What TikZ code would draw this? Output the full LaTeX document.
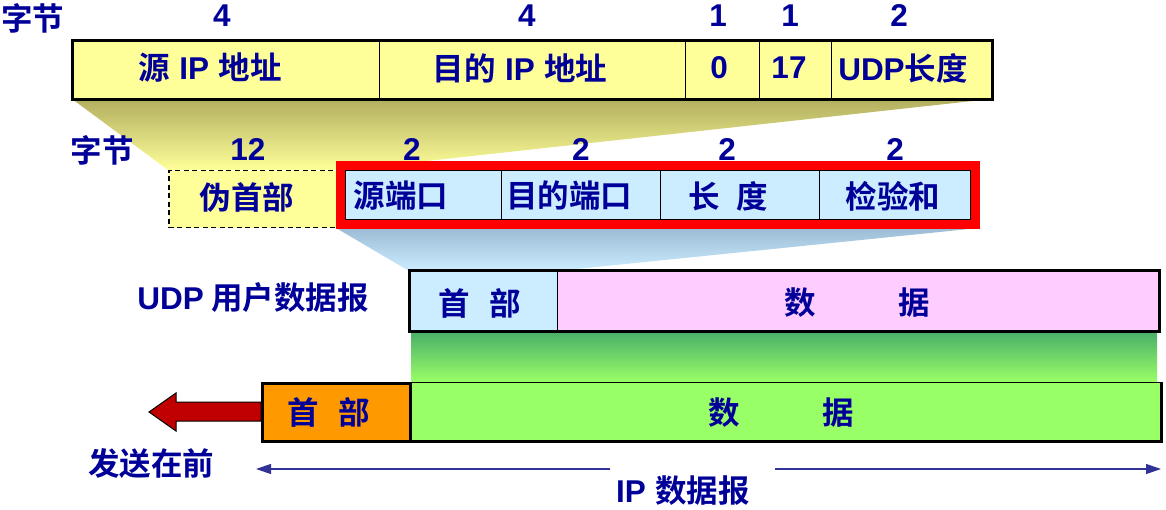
\documentclass[tikz,border=0pt]{standalone}
\usepackage{fontspec}
\usetikzlibrary{arrows.meta,calc}
\newfontfamily\cjk{Noto Sans CJK SC}[UprightFont={* Bold}]
\newfontfamily\lat{Liberation Sans}[UprightFont={* Bold}]
\definecolor{navy}{RGB}{0,0,153}
\definecolor{yel}{RGB}{255,255,153}
\definecolor{lblue}{RGB}{204,236,255}
\definecolor{pink}{RGB}{255,204,255}
\definecolor{orng}{RGB}{255,153,0}
\definecolor{grn}{RGB}{153,255,102}
\definecolor{arrred}{RGB}{192,0,0}
\definecolor{ytop}{RGB}{178,174,96}
\definecolor{btop}{RGB}{155,188,212}
\definecolor{gtop}{RGB}{75,175,105}
\definecolor{ipline}{RGB}{50,50,150}
\begin{document}
\begin{tikzpicture}[x=1pt,y=-1pt,
  txt/.style={inner sep=0pt, text=navy, font=\fontsize{31.5}{36}\selectfont},
  cell/.style={draw=black, line width=1pt, inner sep=0pt, anchor=north west},
  outer/.style={draw=black, line width=3pt},
  iparrow/.style={draw=ipline, line width=1.2pt, -{Triangle[length=15pt,width=10pt]}}]
\useasboundingbox (0,0) rectangle (1166,510);

% shadings
\shade[top color=ytop, bottom color=yel] (72,99) -- (991,99) -- (345,170) -- (168,170) -- cycle;
\shade[top color=btop, bottom color=lblue] (336,228) -- (979,228) -- (557,271) -- (409,271) -- cycle;
\shade[top color=gtop, bottom color=grn] (411,332) rectangle (1157,382);

% top row: pseudo header fields
\node[txt] (by1) at (33,18) {\cjk 字节};
\node[txt] (n1) at (222,16) {\lat 4};
\node[txt] (n2) at (527,16) {\lat 4};
\node[txt] (n3) at (718,16) {\lat 1};
\node[txt] (n4) at (790,16) {\lat 1};
\node[txt] (n5) at (899,16) {\lat 2};

\node[cell, fill=yel, minimum width=307pt, minimum height=58pt] (src) at (72,41) {};
\node[cell, fill=yel, minimum width=306pt, minimum height=58pt] (dst) at (379,41) {};
\node[cell, fill=yel, minimum width=74pt, minimum height=58pt] (zero) at (685,41) {};
\node[cell, fill=yel, minimum width=72pt, minimum height=58pt] (proto) at (759,41) {};
\node[cell, fill=yel, minimum width=160pt, minimum height=58pt] (ulen) at (831,41) {};
\draw[outer] (src.north west) rectangle (ulen.south east);
\node[txt] (srct) at (210,68) {{\cjk 源} {\lat IP} {\cjk 地址}};
\node[txt] (dstt) at (520,68) {{\cjk 目的} {\lat IP} {\cjk 地址}};
\node[txt] (zerot) at (719,68) {\lat 0};
\node[txt] (protot) at (789,68) {\lat 17};
\node[txt] (ulent) at (903,68) {{\lat UDP}{\cjk 长度}};

% second row: UDP header
\node[txt] (by2) at (102,150) {\cjk 字节};
\node[txt] (m1) at (248,150) {\lat 12};
\node[txt] (m2) at (412,150) {\lat 2};
\node[txt] (m3) at (581,150) {\lat 2};
\node[txt] (m4) at (727,150) {\lat 2};
\node[txt] (m5) at (895,150) {\lat 2};

\node[cell, fill=yel, dash pattern=on 5pt off 3.5pt, line width=1.5pt, minimum width=177pt, minimum height=57pt] (pseudo) at (168,170) {};
\node[txt] (pseudot) at (247,197) {\cjk 伪首部};

\node[cell, fill=lblue, minimum width=156pt, minimum height=49pt] (srcp) at (345,170) {};
\node[cell, fill=lblue, minimum width=159pt, minimum height=49pt] (dstp) at (501,170) {};
\node[cell, fill=lblue, minimum width=159pt, minimum height=49pt] (lenf) at (660,170) {};
\node[cell, fill=lblue, minimum width=151pt, minimum height=49pt] (chk) at (819,170) {};
\draw[red, line width=9pt] ($(srcp.north west)+(-4.5,-4.5)$) rectangle ($(chk.south east)+(4.5,4.5)$);
\node[txt] (srcpt) at (401,196) {\cjk 源端口};
\node[txt] (dstpt) at (569,196) {\cjk 目的端口};
\node[txt] (lenft) at (728,196) {\cjk 长\hspace{17pt}度};
\node[txt] (chkt) at (893,196) {\cjk 检验和};

% UDP datagram
\node[txt] (udplbl) at (253,298) {{\lat UDP}\hspace{7pt}{\cjk 用户数据报}};
\node[cell, fill=lblue, minimum width=148pt, minimum height=59pt] (udph) at (409,271) {};
\node[cell, fill=pink, minimum width=601pt, minimum height=59pt] (udpd) at (557,271) {};
\draw[outer] (udph.north west) rectangle (udpd.south east);
\node[txt] (udpht) at (480,303) {\cjk 首\hspace{20pt}部};
\node[txt] (udpdt1) at (800,303) {\cjk 数};
\node[txt] (udpdt2) at (914,303) {\cjk 据};

% IP datagram
\node[cell, fill=grn, minimum width=751pt, minimum height=58pt] (ipd) at (409,382) {};
\draw[outer] (ipd.north east) -- (ipd.south east) -- (ipd.south west);
\node[cell, fill=orng, line width=3pt, minimum width=148pt, minimum height=58pt] (iph) at (261,382) {};
\node[txt] (ipht) at (329,412) {\cjk 首\hspace{20pt}部};
\node[txt] (ipdt1) at (724,413) {\cjk 数};
\node[txt] (ipdt2) at (838,413) {\cjk 据};

% big send arrow
\filldraw[fill=arrred, draw=black, line width=1pt]
  (iph.west |- 0,402) -- (176,402) -- (176,393) -- (149,412) -- (176,431) -- (176,421) -- (iph.west |- 0,421) -- cycle;
\node[txt] (sendt) at (151,464) {\cjk 发送在前};

% IP datagram extent arrow
\coordinate (ipL) at (256,469);
\coordinate (ipR) at (1161,469);
\coordinate (gapL) at (610,469);
\coordinate (gapR) at (775,469);
\draw[iparrow] (gapL) -- (ipL);
\draw[iparrow] (gapR) -- (ipR);
\node[txt] (iplbl) at (683,491) {{\lat IP} {\cjk 数据报}};
\end{tikzpicture}
\end{document}
